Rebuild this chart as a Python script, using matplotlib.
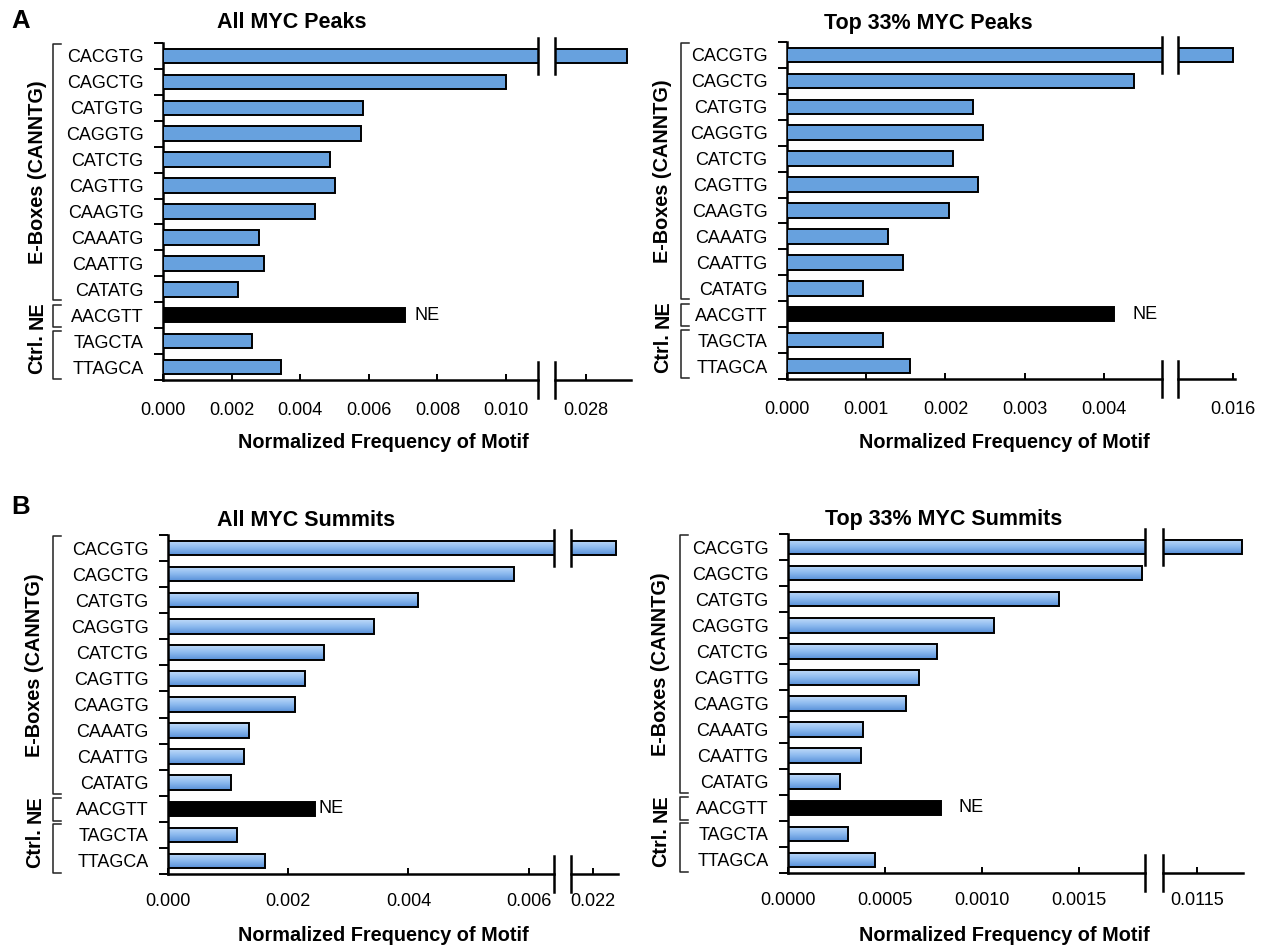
import numpy as np
import matplotlib
matplotlib.use("Agg")
import matplotlib.pyplot as plt
from matplotlib import font_manager
from matplotlib.colors import LinearSegmentedColormap

# motif rows, top to bottom
motifs = ["CACGTG", "CAGCTG", "CATGTG", "CAGGTG", "CATCTG", "CAGTTG", "CAAGTG",
          "CAAATG", "CAATTG", "CATATG", "AACGTT", "TAGCTA", "TTAGCA"]
ne_motif = "AACGTT"

# normalized motif frequencies
peaks_all = [0.0292, 0.0100, 0.00583, 0.00576, 0.00486, 0.00500, 0.00444,
             0.00281, 0.00295, 0.00218, 0.00706, 0.00260, 0.00344]
peaks_top = [0.0160, 0.00438, 0.00235, 0.00247, 0.00210, 0.00241, 0.00204,
             0.00127, 0.00146, 0.00096, 0.00413, 0.00121, 0.00155]
summits_all = [0.02239, 0.00575, 0.00416, 0.00343, 0.00260, 0.00228, 0.00212,
               0.00134, 0.00126, 0.00104, 0.00245, 0.00114, 0.00162]
summits_top = [0.01173, 0.001825, 0.001397, 0.001063, 0.000767, 0.000676, 0.000606,
               0.000385, 0.000376, 0.000270, 0.000790, 0.000311, 0.000450]

groups = [("E-Boxes (CANNTG)", 0, 9), ("NE", 10, 10), ("Ctrl.", 11, 12)]

W, H = 1269, 947

names = {f.name for f in font_manager.fontManager.ttflist}
if "Liberation Sans Narrow" in names:
    FAM = "Liberation Sans Narrow"
    FS_TICK, FS_TITLE, FS_XLAB, FS_GROUP, FS_LET = 15.5, 18.5, 17, 17, 22
else:
    FAM = "Liberation Sans"
    FS_TICK, FS_TITLE, FS_XLAB, FS_GROUP, FS_LET = 13, 15.5, 14.3, 14.3, 18.5
plt.rcParams["font.family"] = [FAM, "DejaVu Sans"]

BLUE = "#67a1de"
grad_cmap = LinearSegmentedColormap.from_list("bar", ["#c0dbf9", "#8dbaef", "#5890d8"])

fig = plt.figure(figsize=(W / 100, H / 100), dpi=100)


def rect(x0, y0, x1, y1):
    return [x0 / W, 1 - y1 / H, (x1 - x0) / W, (y1 - y0) / H]


panels = [
    dict(vals=peaks_all, title="All MYC Peaks", box=(163, 538, 555, 631, 43, 380),
         lo=(0, 0.01093), hi=(0.02710, 0.02931), lo_ticks=np.arange(0, 0.0101, 0.002),
         fmt="{:.3f}", hi_ticks=[0.028], grad=False, title_xy=(292, 23), xlab_xy=(383, 443),
         ne_gap=7, brk=-110, grp=-126, pad=16),
    dict(vals=peaks_top, title="Top 33% MYC Peaks", box=(787, 1162, 1178, 1235, 42, 379),
         lo=(0, 0.004735), hi=(0.015306, 0.016025), lo_ticks=np.arange(0, 0.00401, 0.001),
         fmt="{:.3f}", hi_ticks=[0.016], grad=False, title_xy=(928, 23), xlab_xy=(1004, 443),
         ne_gap=13, brk=-106, grp=-124, pad=16),
    dict(vals=summits_all, title="All MYC Summits", box=(168, 554, 571, 618, 535, 874),
         lo=(0, 0.00642), hi=(0.021634, 0.022416), lo_ticks=np.arange(0, 0.00601, 0.002),
         fmt="{:.3f}", hi_ticks=[0.022], grad=True, title_xy=(306, 520), xlab_xy=(383, 935),
         ne_gap=2, brk=-115, grp=-133, pad=14),
    dict(vals=summits_top, title="Top 33% MYC Summits", box=(788, 1145, 1163, 1243, 534, 873),
         lo=(0, 0.001838), hi=(0.011325, 0.011737), lo_ticks=np.arange(0, 0.00151, 0.0005),
         fmt="{:.4f}", hi_ticks=[0.0115], grad=True, title_xy=(944, 520), xlab_xy=(1004, 935),
         ne_gap=12, brk=-108, grp=-127, pad=14),
]

y = np.arange(len(motifs))
nrow = len(motifs)
grad = np.linspace(0, 1, 64).reshape(-1, 1)

for p in panels:
    x0, xb0, xb1, x1, y0, y1 = p["box"]
    ax_lo = fig.add_axes(rect(x0, y0, xb0, y1))
    ax_hi = fig.add_axes(rect(xb1, y0, x1, y1))
    row_px = (y1 - y0) / nrow

    for ax, lim in ((ax_lo, p["lo"]), (ax_hi, p["hi"])):
        face = ["black" if m == ne_motif else ("none" if p["grad"] else BLUE) for m in motifs]
        bars = ax.barh(y, p["vals"], height=0.56, color=face, edgecolor="black",
                       linewidth=1.4, zorder=3)
        if p["grad"]:
            for b, m in zip(bars, motifs):
                left, right = max(0, lim[0]), min(b.get_width(), lim[1])
                if m == ne_motif or right <= left:
                    continue
                ax.imshow(grad, cmap=grad_cmap, aspect="auto", zorder=2,
                          interpolation="bilinear",
                          extent=[left, right, b.get_y() + b.get_height(), b.get_y()])
        ax.set_xlim(*lim)
        ax.set_ylim(nrow - 0.5, -0.5)
        ax.set_facecolor("none")
        for s in ("top", "right", "left"):
            ax.spines[s].set_visible(False)
        ax.spines["bottom"].set_linewidth(1.8)
        ax.tick_params(axis="x", direction="in", length=4.5, width=1.4, pad=p["pad"],
                       labelsize=FS_TICK)

        # break marks at the split
        xe = 1 if ax is ax_lo else 0
        tr = ax.get_yaxis_transform()
        half = 18 / row_px
        for yc in (0, nrow - 0.5):
            ax.plot([xe, xe], [yc - half, yc + half], color="black", lw=1.8,
                    transform=tr, clip_on=False, zorder=5)

    ax_lo.spines["left"].set_visible(True)
    ax_lo.spines["left"].set_linewidth(1.8)
    ax_lo.set_yticks(y)
    ax_lo.set_yticklabels(motifs, fontsize=FS_TICK)
    ax_lo.set_yticks(np.arange(-0.5, nrow, 1), minor=True)
    ax_lo.tick_params(axis="y", which="major", length=0, pad=14)
    ax_lo.tick_params(axis="y", which="minor", length=6.5, width=1.4, direction="out")
    ax_lo.set_xticks(p["lo_ticks"])
    ax_lo.set_xticklabels([p["fmt"].format(t) for t in p["lo_ticks"]])

    ax_hi.set_yticks([])
    ax_hi.set_xticks(p["hi_ticks"])
    ax_hi.set_xticklabels([p["fmt"].format(t) for t in p["hi_ticks"]])

    # NE label beside the non-E-box control bar
    ne_i = motifs.index(ne_motif)
    ax_lo.annotate("NE", (p["vals"][ne_i], ne_i), xytext=(p["ne_gap"], 0),
                   textcoords="offset points", va="center", ha="left", fontsize=FS_TICK)

    # group brackets and labels
    ax_w = xb0 - x0
    tr = ax_lo.get_yaxis_transform()
    xv = p["brk"] / ax_w
    xt = (p["brk"] + 8) / ax_w
    for label, g0, g1 in groups:
        top = g0 - 0.47 if g0 == 0 else g0 - 0.4
        bot = g1 + 0.42 if g1 == 9 else g1 + 0.45
        ax_lo.plot([xt, xv, xv, xt], [top, top, bot, bot], color="#222222", lw=1.1,
                   transform=tr, clip_on=False)
        ax_lo.text(p["grp"] / ax_w, (g0 + g1) / 2, label, rotation=90, ha="center",
                   va="center", fontsize=FS_GROUP, fontweight="bold", transform=tr)

    fig.text(p["title_xy"][0] / W, 1 - p["title_xy"][1] / H, p["title"], ha="center",
             va="center", fontsize=FS_TITLE, fontweight="bold")
    fig.text(p["xlab_xy"][0] / W, 1 - p["xlab_xy"][1] / H, "Normalized Frequency of Motif",
             ha="center", va="center", fontsize=FS_XLAB, fontweight="bold")

fig.text(21 / W, 1 - 21 / H, "A", ha="center", va="center", fontsize=FS_LET, fontweight="bold")
fig.text(21 / W, 1 - 507 / H, "B", ha="center", va="center", fontsize=FS_LET, fontweight="bold")

fig.savefig("out.png", dpi=100)
